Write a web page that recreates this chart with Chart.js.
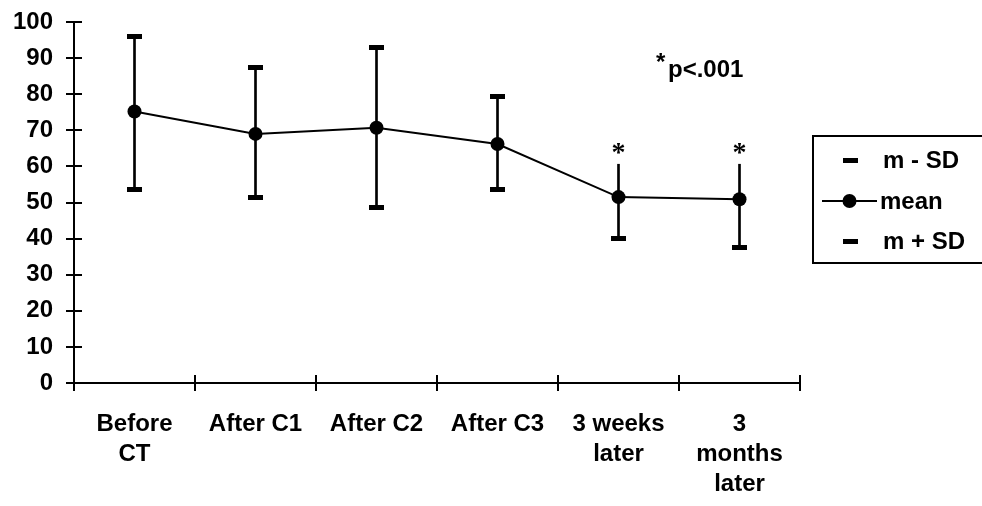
<!DOCTYPE html>
<html>
<head>
<meta charset="utf-8">
<script src="https://cdn.jsdelivr.net/npm/chart.js@4/dist/chart.umd.min.js"></script>
<style>
  html, body { margin: 0; padding: 0; background: #fff; }
  #wrap { width: 982px; height: 506px; }
  canvas { display: block; background: #fff; }
</style>
</head>
<body>
<div id="wrap"><canvas id="c" width="982" height="506"></canvas></div>
<script>
// ---- data ----
const categories = [["Before", "CT"], "After C1", "After C2", "After C3", ["3 weeks", "later"], ["3", "months", "later"]];
const meanValues = [75.2, 69.0, 70.7, 66.2, 51.5, 50.9];
const lowerValues = [53.6, 51.5, 48.6, 53.6, 39.9, 37.6];
const upperValues = [96.1, 87.3, 92.9, 79.5, 60.6, 60.6];
const upperCapShown = [true, true, true, true, false, false];
const sigMarks = ["", "", "", "", "*", "*"];
const yTicks = [0, 10, 20, 30, 40, 50, 60, 70, 80, 90, 100];
const seriesLabels = ["m - SD", "mean", "m + SD"];
const noteText = "p<.001";

const FONT = "'Liberation Sans', Arial, sans-serif";

// cap marker (short thick dash)
const cap = document.createElement('canvas');
cap.width = 15; cap.height = 5;
(function(){ const g = cap.getContext('2d'); g.fillStyle = '#000'; g.fillRect(0, 0, 15, 5); })();

const rangePairs = lowerValues.map((lo, i) => [lo, upperValues[i]]);

const crossTicks = {
  id: 'crossTicks',
  afterDraw(chart) {
    const ctx = chart.ctx, xs = chart.scales.x, ys = chart.scales.y;
    ctx.save();
    ctx.strokeStyle = '#000';
    ctx.lineWidth = 2;
    ctx.beginPath();
    const ax = Math.round(xs.left);
    yTicks.forEach(v => {
      const y = Math.round(ys.getPixelForValue(v));
      ctx.moveTo(ax - 8, y); ctx.lineTo(ax + 8, y);
    });
    const ay = Math.round(ys.bottom);
    for (let i = 0; i <= categories.length; i++) {
      const x = Math.round(xs.getPixelForValue(i - 0.5));
      ctx.moveTo(x, ay - 8); ctx.lineTo(x, ay + 8);
    }
    ctx.stroke();
    ctx.restore();
  }
};

const annotations = {
  id: 'annotations',
  afterDatasetsDraw(chart) {
    const ctx = chart.ctx, xs = chart.scales.x, ys = chart.scales.y;
    ctx.save();
    ctx.fillStyle = '#000';
    // significance asterisks above whiskers
    ctx.font = "bold 28px 'Liberation Serif', 'Times New Roman', serif";
    ctx.textAlign = 'center';
    ctx.textBaseline = 'alphabetic';
    sigMarks.forEach((m, i) => {
      if (!m) return;
      const x = xs.getPixelForValue(i);
      const y = ys.getPixelForValue(upperValues[i]);
      ctx.fillText(m, x, y - 3);
    });
    // note *p<.001
    ctx.font = "bold 24px " + FONT;
    ctx.textAlign = 'left';
    ctx.fillText('*', 656, 70);
    ctx.fillText(noteText, 668, 77);

    // legend
    const lx = 813, ly = 136;
    ctx.strokeStyle = '#000';
    ctx.lineWidth = 2;
    ctx.strokeRect(lx, ly, 200, 127);
    const rows = [160, 201, 241];
    ctx.textBaseline = 'middle';
    ctx.font = "bold 24px " + FONT;
    // m - SD
    ctx.drawImage(cap, 850 - 7.5, rows[0] - 2.5);
    ctx.fillText(seriesLabels[0], 883, rows[0] + 1);
    // mean
    ctx.beginPath();
    ctx.moveTo(822, rows[1]); ctx.lineTo(877, rows[1]);
    ctx.stroke();
    ctx.beginPath();
    ctx.arc(849.5, rows[1], 7, 0, Math.PI * 2);
    ctx.fill();
    ctx.fillText(seriesLabels[1], 880, rows[1] + 1);
    // m + SD
    ctx.drawImage(cap, 850 - 7.5, rows[2] - 2.5);
    ctx.fillText(seriesLabels[2], 883, rows[2] + 1);
    ctx.restore();
  }
};

new Chart(document.getElementById('c'), {
  type: 'line',
  data: {
    labels: categories,
    datasets: [
      {
        type: 'bar',
        label: 'range',
        data: rangePairs,
        backgroundColor: '#000',
        borderWidth: 0,
        borderSkipped: false,
        barThickness: 2,
        order: 4
      },
      {
        label: seriesLabels[0],
        data: lowerValues,
        showLine: false,
        pointStyle: cap,
        pointRadius: 5,
        order: 2
      },
      {
        label: seriesLabels[1],
        data: meanValues,
        borderColor: '#000',
        borderWidth: 2,
        pointRadius: 7,
        pointBackgroundColor: '#000',
        pointBorderColor: '#000',
        pointBorderWidth: 0,
        tension: 0,
        order: 1
      },
      {
        label: seriesLabels[2],
        data: upperValues,
        showLine: false,
        pointStyle: cap,
        pointRadius: upperCapShown.map(s => s ? 5 : 0),
        order: 2
      }
    ]
  },
  options: {
    responsive: false,
    animation: false,
    events: [],
    layout: { padding: { left: 0, right: 182, top: 22, bottom: 0 } },
    plugins: {
      legend: { display: false },
      tooltip: { enabled: false }
    },
    scales: {
      x: {
        offset: true,
        grid: { display: false, drawTicks: false },
        border: { display: true, color: '#000', width: 2 },
        ticks: {
          color: '#000',
          font: { family: FONT, size: 24, weight: 'bold', lineHeight: 1.25 },
          padding: 26,
          maxRotation: 0,
          autoSkip: false
        },
        afterFit(scale) { scale.height = 123; scale.paddingLeft = 0; scale.paddingRight = 0; }
      },
      y: {
        min: 0,
        max: 100,
        grid: { display: false, drawTicks: false },
        border: { display: true, color: '#000', width: 2 },
        ticks: {
          stepSize: 10,
          color: '#000',
          font: { family: FONT, size: 24, weight: 'bold' },
          padding: 21
        },
        afterFit(scale) { scale.width = 74; scale.paddingTop = 0; scale.paddingBottom = 0; }
      }
    }
  },
  plugins: [crossTicks, annotations]
});
</script>
</body>
</html>
